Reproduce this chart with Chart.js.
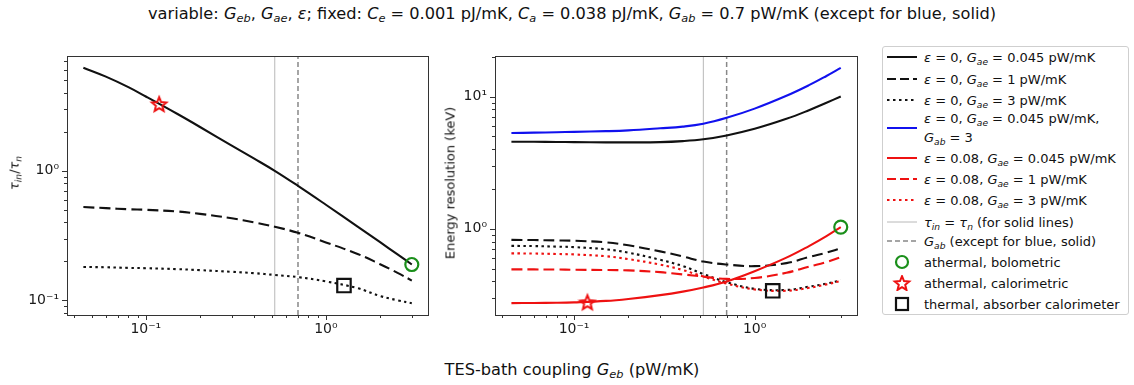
<!DOCTYPE html>
<html>
<head>
<meta charset="utf-8">
<script src="https://cdn.jsdelivr.net/npm/chart.js@4.4.1/dist/chart.umd.min.js"></script>
<style>
  body { margin: 0; background: #fff; font-family: "DejaVu Sans", sans-serif; color: #111; }
  #fig { position: relative; width: 1134px; height: 385px; overflow: hidden; }
  canvas { position: absolute; }
  .t { position: absolute; white-space: nowrap; line-height: 1; }
  i { font-style: oblique; }
  sub { font-size: 70%; vertical-align: -0.3em; line-height: 0; }
  #legend { position: absolute; left: 882px; top: 46px; width: 247px; height: 269px;
            border: 1px solid #cfcfcf; border-radius: 3px; box-sizing: border-box; }
  .row { position: absolute; left: 0; font-size: 13px; line-height: 19px; white-space: nowrap; }
  .row svg { position: absolute; left: 3px; }
  .row span { position: absolute; left: 41px; }
</style>
</head>
<body>
<div id="fig">
  <div class="t" style="left:572px;top:14px;transform:translate(-50%,-50%);font-size:16.2px">variable: <i>G<sub>eb</sub></i>, <i>G<sub>ae</sub></i>, <i>ε</i>; fixed: <i>C<sub>e</sub></i> = 0.001 pJ/mK, <i>C<sub>a</sub></i> = 0.038 pJ/mK, <i>G<sub>ab</sub></i> = 0.7 pW/mK (except for blue, solid)</div>
  <canvas id="tau" width="440" height="305" style="left:0;top:40px"></canvas>
  <canvas id="res" width="430" height="305" style="left:440px;top:40px"></canvas>
  <div class="t" style="left:14px;top:173px;transform:translate(-50%,-50%) rotate(-90deg);font-size:13px"><i>τ<sub>in</sub></i>/<i>τ<sub>n</sub></i></div>
  <div class="t" style="left:450px;top:183px;transform:translate(-50%,-50%) rotate(-90deg);font-size:13px">Energy resolution (keV)</div>
  <div class="t" style="left:572px;top:370px;transform:translate(-50%,-50%);font-size:16.2px">TES-bath coupling <i>G<sub>eb</sub></i> (pW/mK)</div>
  <div id="legend"></div>
</div>
<script>
// TES-bath coupling grid (pW/mK)
const geb = [0.045, 0.06, 0.08, 0.1, 0.15, 0.2, 0.3, 0.4, 0.52, 0.7, 1, 1.5, 2, 2.5, 3];

// left panel: tau_in / tau_n, eps = 0
const tauGae0045 = [6.25, 5.34, 4.43, 3.75, 2.745, 2.18, 1.563, 1.241, 1.0, 0.765, 0.547, 0.371, 0.281, 0.226, 0.189];
const tauGae1 = [0.525, 0.515, 0.505, 0.5, 0.485, 0.465, 0.43, 0.4, 0.37, 0.332, 0.28, 0.228, 0.19, 0.163, 0.142];
const tauGae3 = [0.181, 0.18, 0.178, 0.177, 0.174, 0.171, 0.166, 0.162, 0.157, 0.151, 0.14, 0.124, 0.108, 0.1, 0.095];

// right panel: energy resolution (keV)
const resE0Gae0045 = [4.55, 4.55, 4.53, 4.52, 4.5, 4.5, 4.52, 4.6, 4.75, 5.08, 5.7, 6.78, 7.88, 8.97, 10.0];
const resE0Gae1 = [0.825, 0.822, 0.817, 0.812, 0.79, 0.75, 0.675, 0.618, 0.565, 0.537, 0.522, 0.55, 0.612, 0.66, 0.71];
const resE0Gae3 = [0.743, 0.74, 0.733, 0.727, 0.7, 0.66, 0.583, 0.523, 0.455, 0.395, 0.352, 0.345, 0.365, 0.385, 0.408];
const resE0Gab3 = [5.3, 5.33, 5.37, 5.4, 5.47, 5.55, 5.75, 5.92, 6.22, 6.9, 8.1, 10.13, 12.18, 14.3, 16.45];
const resE008Gae0045 = [0.274, 0.275, 0.276, 0.278, 0.285, 0.295, 0.315, 0.335, 0.36, 0.4, 0.478, 0.605, 0.74, 0.88, 1.03];
const resE008Gae1 = [0.493, 0.493, 0.492, 0.49, 0.488, 0.485, 0.47, 0.452, 0.435, 0.418, 0.425, 0.465, 0.518, 0.56, 0.61];
const resE008Gae3 = [0.652, 0.65, 0.645, 0.64, 0.62, 0.59, 0.536, 0.488, 0.435, 0.385, 0.348, 0.34, 0.358, 0.38, 0.403];

// vertical reference lines
const gebTauEq = 0.52;   // tau_in = tau_n
const gabFixed = 0.7;

// marked operating points [Geb, tau ratio, resolution]
const bolometric = [3, 0.189, 1.03];
const calorimetric = [0.1186, 3.28, 0.279];
const absorberCal = [1.26, 0.13, 0.34];

// axes
const xLim = [0.0365, 3.69];
const tauLim = [0.077, 7.65];
const resLim = [0.223, 20.1];
const xTicks = [0.04, 0.05, 0.06, 0.07, 0.08, 0.09, 0.1, 0.2, 0.3, 0.4, 0.5, 0.6, 0.7, 0.8, 0.9, 1, 2, 3];
const tauTicks = [0.08, 0.09, 0.1, 0.2, 0.3, 0.4, 0.5, 0.6, 0.7, 0.8, 0.9, 1, 2, 3, 4, 5, 6, 7];
const resTicks = [0.3, 0.4, 0.5, 0.6, 0.7, 0.8, 0.9, 1, 2, 3, 4, 5, 6, 7, 8, 9, 10, 20];
const tickText = { 0.1: '10⁻¹', 1: '10⁰', 10: '10¹' };

const RED = '#ee1111', BLUE = '#1111ee', GREEN = '#1a8f1a';
const DASH = [11, 5], DOT = [2.5, 3.5];

function starImg(r, color) {
  const c = document.createElement('canvas');
  const s = Math.ceil(r * 2 + 4);
  c.width = c.height = s;
  const g = c.getContext('2d');
  g.strokeStyle = color; g.lineWidth = 2;
  g.beginPath();
  for (let k = 0; k < 10; k++) {
    const a = -Math.PI / 2 + k * Math.PI / 5, rr = k % 2 ? r * 0.45 : r;
    g.lineTo(s / 2 + rr * Math.cos(a), s / 2 + rr * Math.sin(a) + 0.8);
  }
  g.closePath(); g.stroke();
  return c;
}
const star = starImg(7.6, RED);

const pts = ys => geb.map((x, i) => ({ x, y: ys[i] }));
const line = (ys, color, dash, w) => ({
  data: pts(ys), borderColor: color, borderWidth: w || 2.1, borderDash: dash || [],
  pointRadius: 0, tension: 0.4, order: 1
});
const vline = (x, lim, color, dash, w) => ({
  data: [{ x, y: lim[0] }, { x, y: lim[1] }], borderColor: color, borderWidth: w,
  borderDash: dash, pointRadius: 0, order: 2
});
const marker = (x, y, style, color, r) => ({
  data: [{ x, y }], showLine: false, pointStyle: style, pointRadius: r, pointHoverRadius: r,
  borderColor: color, pointBorderColor: color, pointBorderWidth: 2.2, backgroundColor: 'rgba(0,0,0,0)',
  pointBackgroundColor: 'rgba(0,0,0,0)', order: 0
});

// frame and matplotlib-like ticks
const frame = {
  id: 'frame',
  afterDraw(chart) {
    const { ctx, chartArea: a, scales: { x, y } } = chart;
    ctx.save();
    ctx.strokeStyle = '#333'; ctx.lineWidth = 1;
    ctx.strokeRect(Math.round(a.left) + 0.5, Math.round(a.top) + 0.5,
      Math.round(a.right - a.left), Math.round(a.bottom - a.top));
    const isMajor = v => Math.abs(Math.log10(v) - Math.round(Math.log10(v))) < 1e-9;
    ctx.beginPath();
    x.ticks.forEach(t => {
      const p = Math.round(x.getPixelForValue(t.value)) + 0.5, L = isMajor(t.value) ? 5 : 3;
      ctx.moveTo(p, Math.round(a.bottom)); ctx.lineTo(p, Math.round(a.bottom) + L);
    });
    y.ticks.forEach(t => {
      const p = Math.round(y.getPixelForValue(t.value)) + 0.5, L = isMajor(t.value) ? 5 : 3;
      ctx.moveTo(Math.round(a.left), p); ctx.lineTo(Math.round(a.left) - L, p);
    });
    ctx.stroke();
    ctx.restore();
  }
};

function axes(yLim, yTicks, yWidth) {
  const font = { family: 'DejaVu Sans', size: 14 };
  const base = {
    type: 'logarithmic',
    grid: { display: true, drawOnChartArea: false, drawTicks: false },
    border: { display: false }
  };
  return {
    x: Object.assign({}, base, {
      min: xLim[0], max: xLim[1],
      afterBuildTicks: s => { s.ticks = xTicks.map(v => ({ value: v })); },
      afterFit: s => { s.height = 30; },
      ticks: { font, color: '#1a1a1a', padding: 6, autoSkip: false, maxRotation: 0,
               callback: v => tickText[v] || '' }
    }),
    y: Object.assign({}, base, {
      min: yLim[0], max: yLim[1],
      afterBuildTicks: s => { s.ticks = yTicks.map(v => ({ value: v })); },
      afterFit: s => { s.width = yWidth; },
      ticks: { font, color: '#1a1a1a', padding: 8, autoSkip: false,
               callback: v => tickText[v] || '' }
    })
  };
}

function makeChart(id, datasets, yLim, yTicks, yWidth, padRight) {
  return new Chart(document.getElementById(id), {
    type: 'line',
    data: { datasets },
    options: {
      responsive: false, animation: false, devicePixelRatio: 1,
      layout: { padding: { top: 13, right: padRight, left: 0, bottom: 0 } },
      plugins: { legend: { display: false }, tooltip: { enabled: false } },
      scales: axes(yLim, yTicks, yWidth)
    },
    plugins: [frame]
  });
}

makeChart('tau', [
  marker(bolometric[0], bolometric[1], 'circle', GREEN, 6.5),
  marker(calorimetric[0], calorimetric[1], star, RED, 8),
  marker(absorberCal[0], absorberCal[1], 'rect', '#111', 9.5),
  line(tauGae0045, '#111'),
  line(tauGae1, '#111', DASH),
  line(tauGae3, '#111', DOT),
  vline(gebTauEq, tauLim, '#b8b8b8', [], 1),
  vline(gabFixed, tauLim, '#888', [5, 3], 1.5)
], tauLim, tauTicks, 67, 12);

makeChart('res', [
  marker(bolometric[0], bolometric[2], 'circle', GREEN, 6.5),
  marker(calorimetric[0], calorimetric[2], star, RED, 8),
  marker(absorberCal[0], absorberCal[2], 'rect', '#111', 9.5),
  line(resE008Gae3, RED, DOT),
  line(resE008Gae1, RED, DASH),
  line(resE008Gae0045, RED),
  line(resE0Gab3, BLUE),
  line(resE0Gae3, '#111', DOT),
  line(resE0Gae1, '#111', DASH),
  line(resE0Gae0045, '#111'),
  vline(gebTauEq, resLim, '#b8b8b8', [], 1),
  vline(gabFixed, resLim, '#888', [5, 3], 1.5)
], resLim, resTicks, 55, 13);

// legend
const eps = v => '<i>ε</i> = ' + v;
const gae = v => '<i>G<sub>ae</sub></i> = ' + v + ' pW/mK';
const legendRows = [
  { y: 57, h: 19, html: eps(0) + ', ' + gae(0.045), k: ['#111', 'solid'] },
  { y: 79, h: 19, html: eps(0) + ', ' + gae(1), k: ['#111', 'dash'] },
  { y: 100, h: 19, html: eps(0) + ', ' + gae(3), k: ['#111', 'dot'] },
  { y: 128, h: 38, html: eps(0) + ', ' + gae(0.045) + ',<br><i>G<sub>ab</sub></i> = 3', k: [BLUE, 'solid'] },
  { y: 158, h: 19, html: eps(0.08) + ', ' + gae(0.045), k: [RED, 'solid'] },
  { y: 179, h: 19, html: eps(0.08) + ', ' + gae(1), k: [RED, 'dash'] },
  { y: 200, h: 19, html: eps(0.08) + ', ' + gae(3), k: [RED, 'dot'] },
  { y: 222, h: 19, html: '<i>τ<sub>in</sub></i> = <i>τ<sub>n</sub></i> (for solid lines)', k: ['#b8b8b8', 'thin'] },
  { y: 241, h: 19, html: '<i>G<sub>ab</sub></i> (except for blue, solid)', k: ['#888', 'gab'] },
  { y: 262, h: 19, html: 'athermal, bolometric', k: [GREEN, 'circle'] },
  { y: 283, h: 19, html: 'athermal, calorimetric', k: [RED, 'star'] },
  { y: 304, h: 19, html: 'thermal, absorber calorimeter', k: ['#111', 'square'] }
];

function handle(color, kind) {
  const lineSvg = (dash, w) =>
    `<line x1="1" y1="8" x2="31" y2="8" stroke="${color}" stroke-width="${w}" stroke-dasharray="${dash}"/>`;
  let inner = '';
  if (kind === 'solid') inner = lineSvg('none', 2);
  if (kind === 'dash') inner = lineSvg('9 4', 2);
  if (kind === 'dot') inner = lineSvg('2.5 3.5', 2);
  if (kind === 'thin') inner = lineSvg('none', 1);
  if (kind === 'gab') inner = lineSvg('5 3', 1.5);
  if (kind === 'circle') inner = `<circle cx="16" cy="8" r="6" fill="none" stroke="${color}" stroke-width="2.2"/>`;
  if (kind === 'square') inner = `<rect x="10" y="2" width="12" height="12" fill="none" stroke="${color}" stroke-width="2.2"/>`;
  if (kind === 'star') {
    const p = [];
    for (let k = 0; k < 10; k++) {
      const a = -Math.PI / 2 + k * Math.PI / 5, rr = k % 2 ? 3.4 : 7.6;
      p.push((16 + rr * Math.cos(a)).toFixed(2) + ',' + (8.8 + rr * Math.sin(a)).toFixed(2));
    }
    inner = `<polygon points="${p.join(' ')}" fill="none" stroke="${color}" stroke-width="2"/>`;
  }
  return `<svg width="32" height="16" style="top:${'{T}'}">${inner}</svg>`;
}

const leg = document.getElementById('legend');
legendRows.forEach(r => {
  const d = document.createElement('div');
  d.className = 'row';
  d.style.top = (r.y - 46 - r.h / 2 - 1) + 'px';
  d.style.height = r.h + 'px';
  d.innerHTML = handle(r.k[0], r.k[1]).replace('{T}', (r.h / 2 - 8) + 'px') + '<span>' + r.html + '</span>';
  leg.appendChild(d);
});
</script>
</body>
</html>
